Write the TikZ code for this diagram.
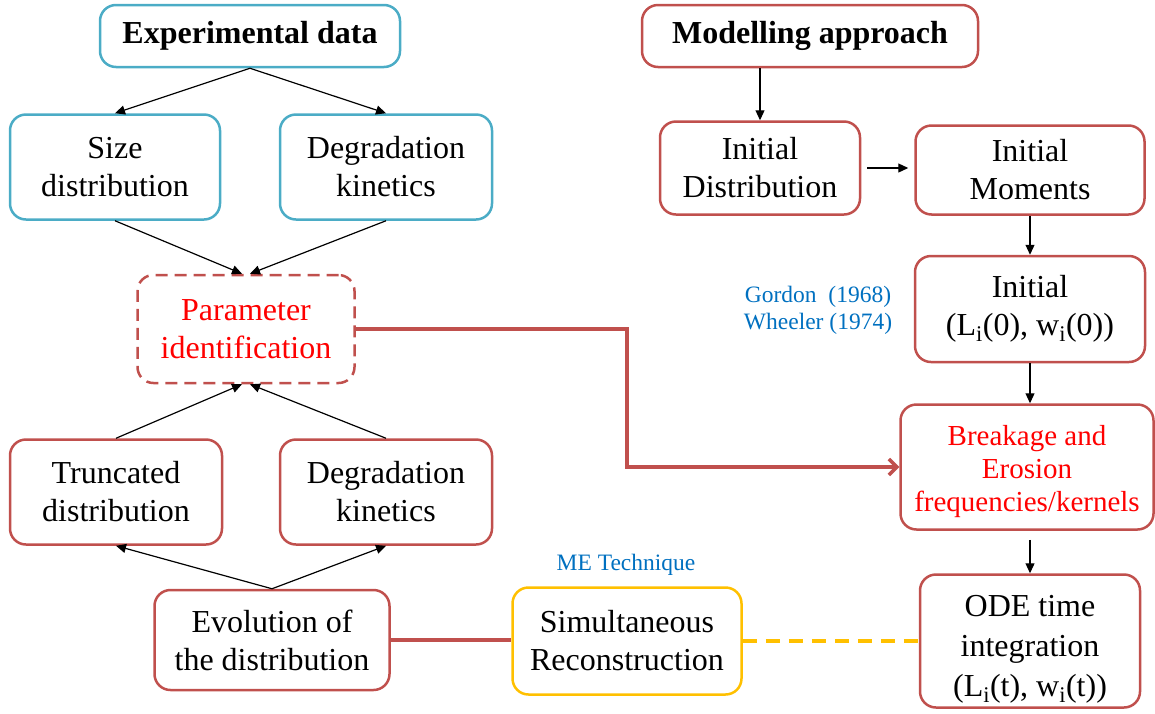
\documentclass[tikz,border=0pt]{standalone}
\usepackage{fontspec}
\setmainfont{Liberation Serif}
\usepackage{xcolor}
\usepackage{tikz}
\usetikzlibrary{
    positioning,
    arrows.meta
}
\definecolor{boxblue}{HTML}{4BACC6}
\definecolor{boxred}{HTML}{C0504D}
\definecolor{boxyellow}{HTML}{FFC000}
\definecolor{txtred}{HTML}{FF0000}
\definecolor{txtblue}{HTML}{0070C0}

\begin{document}
\begin{tikzpicture}[
        x=1pt, y=-1pt,
        box/.style={draw=boxred, line width=2.5pt, rounded corners=16pt, align=center, inner sep=0pt,
                    font=\fontsize{32}{38}\selectfont},
        bluebox/.style={box, draw=boxblue},
        title/.style={font=\fontsize{32}{36}\selectfont\bfseries},
        note/.style={text=txtblue, align=center, font=\fontsize{23.5}{27}\selectfont},
        arr/.style={-{Triangle[length=10pt,width=9pt]}, line width=1.2pt},
        link/.style={draw=boxred, line width=3.5pt}
      ]
      \useasboundingbox (0,0) rectangle (1155,713);

      % experimental side
      \node[bluebox, title, minimum width=300pt, minimum height=62pt] (exp) at (250,36) {Experimental data};
      \node[bluebox, minimum width=210pt, minimum height=105pt] (sizedist) at (115,167) {Size\\distribution};
      \node[bluebox, minimum width=212pt, minimum height=105pt] (degkin) at (386,167) {Degradation\\kinetics};
      \node[box, dash pattern=on 12pt off 7pt, text=txtred, minimum width=217pt, minimum height=108pt] (param) at (246,329) {Parameter\\identification};
      \node[box, minimum width=212pt, minimum height=105pt] (trunc) at (116,492) {Truncated\\distribution};
      \node[box, minimum width=212pt, minimum height=105pt] (degkin2) at (386,492) {Degradation\\kinetics};
      \node[box, minimum width=235pt, minimum height=100pt] (evol) at (272,640) {Evolution of\\the distribution};
      \node[box, draw=boxyellow, minimum width=229pt, minimum height=107pt] (simrec) at (627,641) {Simultaneous\\Reconstruction};
      \node[note] (me) at (626,565) {ME Technique};

      % modelling side
      \node[box, title, minimum width=336pt, minimum height=62pt] (model) at (810,36) {Modelling approach};
      \node[box, minimum width=200pt, minimum height=93pt] (initdist) at (760,168) {Initial\\Distribution};
      \node[box, minimum width=229pt, minimum height=89pt] (initmom) at (1030,170) {Initial\\Moments};
      \node[box, minimum width=230pt, minimum height=106pt] (initLw) at (1030,309) {Initial\\(L\textsubscript{i}(0), w\textsubscript{i}(0))};
      \node[note] (refs) at (818,310) {Gordon~~(1968)\\Wheeler (1974)};
      \node[box, text=txtred, font=\fontsize{29}{33}\selectfont, minimum width=253pt, minimum height=125pt] (breakero) at (1027,467) {\rule{0pt}{30pt}Breakage and\\Erosion\\frequencies/kernels};
      \node[box, font=\fontsize{32}{40}\selectfont, minimum width=220pt, minimum height=133pt] (ode) at (1030,641) {\rule{0pt}{37pt}ODE time\\integration\\(L\textsubscript{i}(t), w\textsubscript{i}(t))};

      % arrows
      \draw[arr] (exp.south) -- (sizedist.north);
      \draw[arr] (exp.south) -- (degkin.north);
      \draw[arr] (sizedist.south) -- ([xshift=-4pt]param.north);
      \draw[arr] (degkin.south) -- ([xshift=4pt]param.north);
      \draw[arr] (trunc.north) -- ([xshift=-4pt]param.south);
      \draw[arr] (degkin2.north) -- ([xshift=4pt]param.south);
      \draw[arr] (evol.north) -- (trunc.south);
      \draw[arr] (evol.north) -- (degkin2.south);

      \draw[arr] (initdist.north |- model.south) -- (initdist.north);
      \draw[arr, shorten <=6pt, shorten >=6pt] (initdist.east) -- (initdist.east -| initmom.west);
      \draw[arr] (initmom.south) -- (initmom.south |- initLw.north);
      \draw[arr] (initLw.south) -- (initLw.south |- breakero.north);
      \draw[arr, shorten <=9pt] (breakero.south -| ode.north) -- (ode.north);

      \coordinate (bend) at (627,0);
      \draw[link, -{Straight Barb[length=8pt,width=16pt]}] (param.east) -| (bend |- breakero.west) -- (breakero.west);
      \draw[link] (evol.east) -- (evol.east -| simrec.west);
      \draw[draw=boxyellow, line width=3.5pt, dash pattern=on 14pt off 9pt] (simrec.east) -- (simrec.east -| ode.west);
    \end{tikzpicture}
\end{document}
